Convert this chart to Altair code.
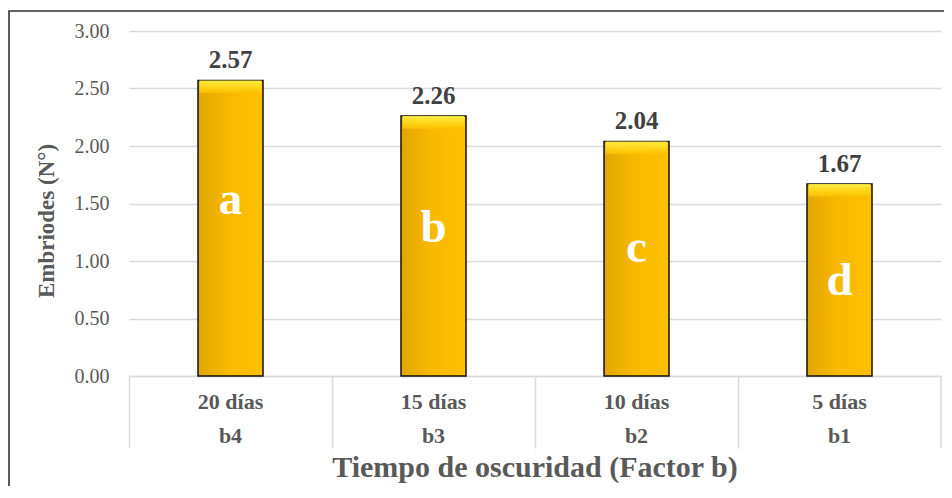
import altair as alt
import pandas as pd

categories = ["20 días", "15 días", "10 días", "5 días"]
codes = ["b4", "b3", "b2", "b1"]
values = [2.57, 2.26, 2.04, 1.67]
letters = ["a", "b", "c", "d"]

x_title = "Tiempo de oscuridad (Factor b)"
y_title = "Embriodes (N°)"

W, H = 812, 345
SERIF = "Liberation Serif"
GRAY = "#595959"

df = pd.DataFrame({"cat": categories, "code": codes, "value": values, "letter": letters})

xenc = alt.X("cat:N", sort=categories,
             scale=alt.Scale(paddingInner=0, paddingOuter=0),
             axis=alt.Axis(labels=False, title=None, bandPosition=0, tickSize=72,
                           tickColor="#D9D9D9", tickWidth=1.5, domainColor="#D9D9D9",
                           domainWidth=1.5))
yscale = alt.Scale(domain=[0, 3])
yenc = alt.Y("value:Q", scale=yscale,
             axis=alt.Axis(values=[0, 0.5, 1, 1.5, 2, 2.5, 3], format=".2f", title=None,
                           domain=False, ticks=False, labelPadding=20,
                           labelFont=SERIF, labelFontSize=20, labelColor=GRAY,
                           gridColor="#D9D9D9", gridWidth=1.5))

base = alt.Chart(df)

frame = alt.Chart(pd.DataFrame({"k": [1]})).mark_rect(
    fillOpacity=0, stroke="#333333", strokeWidth=1.6
).encode(x=alt.value(-120), x2=alt.value(W + 60), y=alt.value(-20), y2=alt.value(H + 200))

bar_grad = alt.Gradient(
    gradient="linear",
    stops=[alt.GradientStop(color="#E2A600", offset=0),
           alt.GradientStop(color="#F7B800", offset=0.45),
           alt.GradientStop(color="#FFC000", offset=1)],
    x1=0, x2=1, y1=0, y2=0)

bars = base.mark_bar(width=65, color=bar_grad, stroke="#111111", strokeWidth=1.5).encode(
    x=xenc, y=yenc)

bevel_grad = alt.Gradient(
    gradient="linear",
    stops=[alt.GradientStop(color="#FFF24A", offset=0),
           alt.GradientStop(color="#FFDA20", offset=0.5),
           alt.GradientStop(color="#FFC000", offset=1)],
    x1=0, x2=0, y1=0, y2=1)

bevel = base.transform_calculate(low="datum.value - 0.11").mark_bar(
    width=62, color=bevel_grad, opacity=0.9).encode(
    x=alt.X("cat:N", sort=categories), y=alt.Y("value:Q", scale=yscale), y2="low:Q")

value_labels = base.mark_text(
    font=SERIF, fontSize=25, fontWeight="bold", color="#404040",
    baseline="alphabetic", dy=-12).encode(
    x=alt.X("cat:N", sort=categories), y=alt.Y("value:Q", scale=yscale),
    text=alt.Text("value:Q", format=".2f"))

letter_labels = base.transform_calculate(ly="datum.value * 0.78 - 0.6").mark_text(
    font=SERIF, fontSize=47, fontWeight="bold", color="white",
    baseline="alphabetic").encode(
    x=alt.X("cat:N", sort=categories), y=alt.Y("ly:Q", scale=yscale), text="letter:N")

cat_labels = base.mark_text(
    font=SERIF, fontSize=22, fontWeight="bold", color=GRAY, baseline="alphabetic").encode(
    x=alt.X("cat:N", sort=categories), y=alt.value(H + 33), text="cat:N")

code_labels = base.mark_text(
    font=SERIF, fontSize=22, fontWeight="bold", color=GRAY, baseline="alphabetic").encode(
    x=alt.X("cat:N", sort=categories), y=alt.value(H + 67), text="code:N")

right_sep = alt.Chart(pd.DataFrame({"k": [1]})).mark_rule(
    color="#D9D9D9", strokeWidth=1.5).encode(
    x=alt.value(W), y=alt.value(H), y2=alt.value(H + 72))

xt = alt.Chart(pd.DataFrame({"t": [x_title]})).mark_text(
    font=SERIF, fontSize=30, fontWeight="bold", color=GRAY, baseline="alphabetic").encode(
    x=alt.value(W / 2), y=alt.value(H + 101), text="t:N")

yt = alt.Chart(pd.DataFrame({"t": [y_title]})).mark_text(
    font=SERIF, fontSize=23, fontWeight="bold", color=GRAY, angle=270,
    baseline="middle").encode(
    x=alt.value(-82), y=alt.value(190), text="t:N")

chart = alt.layer(
    frame, bars, bevel, value_labels, letter_labels, cat_labels, code_labels,
    right_sep, xt, yt
).properties(
    width=W, height=H,
    autosize=alt.AutoSizeParams(type="none"),
    padding={"left": 121, "top": 23, "right": 3, "bottom": 110},
    background="white",
).configure_view(stroke=None)

chart.save("out.html", embed_options={"renderer": "svg", "actions": False})
